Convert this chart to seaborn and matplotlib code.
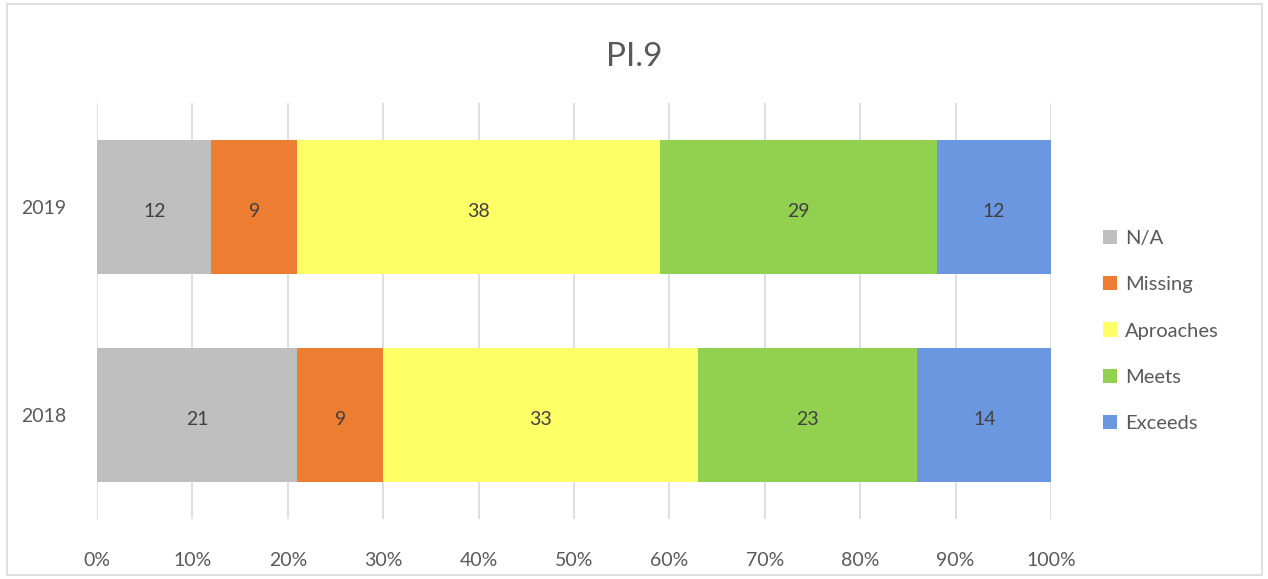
import matplotlib
matplotlib.use("Agg")
import matplotlib.pyplot as plt
import seaborn as sns
import numpy as np
import pandas as pd
from matplotlib.patches import Rectangle, Patch

years = ["2019", "2018"]
series = ["N/A", "Missing", "Aproaches", "Meets", "Exceeds"]
na = [12, 21]
missing = [9, 9]
approaches = [38, 33]
meets = [29, 23]
exceeds = [12, 14]
colors = ["#BFBFBF", "#ED7D31", "#FFFF66", "#92D050", "#6B96E0"]

sns.set_theme(style="white")
plt.rcParams["font.family"] = ["Lato", "DejaVu Sans"]

vals = np.array([na, missing, approaches, meets, exceeds], dtype=float)
pct = vals / vals.sum(axis=0) * 100
cum = np.cumsum(pct, axis=0)

fig = plt.figure(figsize=(12.68, 5.79), dpi=100)
ax = fig.add_axes([97/1268, 1-519/579, (1051-97)/1268, (519-103)/579])

for i in range(len(series) - 1, -1, -1):
    df = pd.DataFrame({"year": years, "value": cum[i]})
    sns.barplot(data=df, x="value", y="year", order=years, color=colors[i],
                orient="h", width=0.645, ax=ax, saturation=1, edgecolor="none",
                zorder=2)

for i in range(len(series)):
    for j, y in enumerate(years):
        start = cum[i][j] - pct[i][j]
        ax.text(start + pct[i][j] / 2, j + 0.02, f"{int(vals[i][j])}", ha="center",
                va="center", fontsize=14, color="#404040", zorder=3)

ax.set_xlim(0, 100)
ax.set_ylim(1.5, -0.5)
ax.set_xticks(np.arange(0, 101, 10))
ax.set_xticklabels([f"{t}%" for t in range(0, 101, 10)])
ax.xaxis.grid(True, color="#D9D9D9", linewidth=1.2, zorder=0)
ax.set_axisbelow(True)
for s in ax.spines.values():
    s.set_visible(False)
ax.set_xlabel("")
ax.set_ylabel("")
ax.tick_params(axis="x", length=0, pad=24, labelsize=14, labelcolor="#595959")
ax.tick_params(axis="y", length=0, pad=22, labelsize=14, labelcolor="#595959")
for lbl in ax.get_yticklabels():
    lbl.set_y(lbl.get_position()[1])

fig.text(0.5, 1-57/579, "PI.9", ha="center", va="center", fontsize=24,
         color="#595959")

handles = [Patch(facecolor=c, edgecolor="none") for c in colors]
fig.legend(handles, series, loc="center left",
           bbox_to_anchor=(1085/1268, 1-331/579), frameon=False,
           fontsize=14.5, labelcolor="#595959", handlelength=0.7,
           handleheight=0.7, handletextpad=0.4, labelspacing=1.45)

fig.patches.append(Rectangle((7/1268, 4/579), (1262-7)/1268, (575-4)/579,
                             transform=fig.transFigure, fill=False,
                             edgecolor="#D9D9D9", linewidth=1.2))

fig.savefig("out.png", dpi=100)
